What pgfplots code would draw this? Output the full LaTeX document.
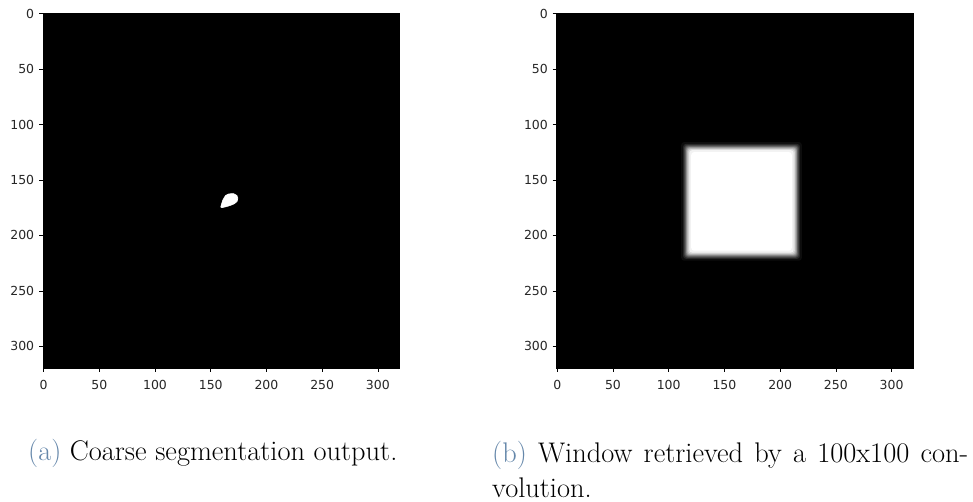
\documentclass[border=0pt]{standalone}
\usepackage{fontspec}
\usepackage{pgfplots}
\pgfplotsset{compat=1.18}
\newfontfamily\tickfont{DejaVu Sans}
\definecolor{capblue}{RGB}{101,135,170}
\definecolor{ticklab}{RGB}{38,38,38}

\newcommand\tickfontsize{\tickfont\fontsize{12.5}{13}\selectfont}

\pgfplotsset{
  imgax/.style={
    scale only axis, width=356.6bp, height=355bp,
    xmin=-0.5, xmax=319.5, ymin=-0.5, ymax=319.5, y dir=reverse,
    xtick={0,50,...,300}, ytick={0,50,...,300},
    xtick pos=left, ytick pos=left,
    tick align=outside, major tick length=4bp,
    every tick/.style={black, line width=0.7bp},
    axis line style={black, line width=0.7bp},
    /pgf/number format/assume math mode=true,
    xticklabel style={font=\tickfontsize, text=ticklab, inner sep=0pt, anchor=north, yshift=-8bp},
    yticklabel style={font=\tickfontsize, text=ticklab, inner sep=0pt, anchor=east, xshift=-4.7bp},
    axis background/.style={fill=black},
    axis on top,
  }
}

\begin{document}
\begin{tikzpicture}[x=1bp,y=1bp]
\useasboundingbox (0,0) rectangle (973,502);

% (a) coarse segmentation mask
\begin{axis}[imgax, at={(43bp,134bp)}, anchor=south west]
  \addplot [fill=white, draw=white, line width=0.6bp, smooth, tension=0.55]
    coordinates {
      (159.0,174.4) (160.8,168.4) (163.5,163.9) (166.0,162.7)
      (170.5,162.4) (173.4,163.9) (174.3,166.3) (173.7,169.3)
      (171.4,171.3) (166.0,173.5) (160.0,174.9) (159.0,174.4)
    } -- cycle;
\end{axis}

% (b) window after the 100x100 convolution: nested level sets of the blurred box
\begin{axis}[imgax, at={(556.7bp,134bp)}, anchor=south west]
  \addplot [fill=white!5!black,  draw=none, rounded corners=3bp] coordinates {(111.2,115.8) (219.5,115.8) (219.5,222.8) (111.2,222.8)} -- cycle;
  \addplot [fill=white!15!black, draw=none, rounded corners=3bp] coordinates {(112.9,117.5) (217.8,117.5) (217.8,221.1) (112.9,221.1)} -- cycle;
  \addplot [fill=white!25!black, draw=none, rounded corners=3bp] coordinates {(113.85,118.45) (216.85,118.45) (216.85,220.15) (113.85,220.15)} -- cycle;
  \addplot [fill=white!35!black, draw=none, rounded corners=3bp] coordinates {(114.55,119.15) (216.15,119.15) (216.15,219.45) (114.55,219.45)} -- cycle;
  \addplot [fill=white!45!black, draw=none, rounded corners=3bp] coordinates {(115.15,119.75) (215.55,119.75) (215.55,218.85) (115.15,218.85)} -- cycle;
  \addplot [fill=white!55!black, draw=none, rounded corners=3bp] coordinates {(115.7,120.3) (215.0,120.3) (215.0,218.3) (115.7,218.3)} -- cycle;
  \addplot [fill=white!65!black, draw=none, rounded corners=3bp] coordinates {(116.25,120.85) (214.45,120.85) (214.45,217.75) (116.25,217.75)} -- cycle;
  \addplot [fill=white!75!black, draw=none, rounded corners=3bp] coordinates {(116.85,121.45) (213.85,121.45) (213.85,217.15) (116.85,217.15)} -- cycle;
  \addplot [fill=white!85!black, draw=none, rounded corners=3bp] coordinates {(117.55,122.15) (213.15,122.15) (213.15,216.45) (117.55,216.45)} -- cycle;
  \addplot [fill=white!95!black, draw=none, rounded corners=3bp] coordinates {(118.5,123.1) (212.2,123.1) (212.2,215.5) (118.5,215.5)} -- cycle;
  \addplot [fill=white,          draw=none, rounded corners=3bp] coordinates {(120.2,124.8) (210.5,124.8) (210.5,213.8) (120.2,213.8)} -- cycle;
\end{axis}

% sub-captions
\node [anchor=base west, inner sep=0pt, font=\fontsize{28.5}{35}\selectfont]
  at (28,41) {\textcolor{capblue}{(a)} Coarse segmentation output.};
\node [anchor=north west, inner sep=0pt, text width=476bp, align=justify,
       font=\fontsize{28.5}{35}\selectfont]
  at (492,61) {\textcolor{capblue}{(b)} Window retrieved by a 100x100 con-\linebreak volution.};
\end{tikzpicture}
\end{document}
